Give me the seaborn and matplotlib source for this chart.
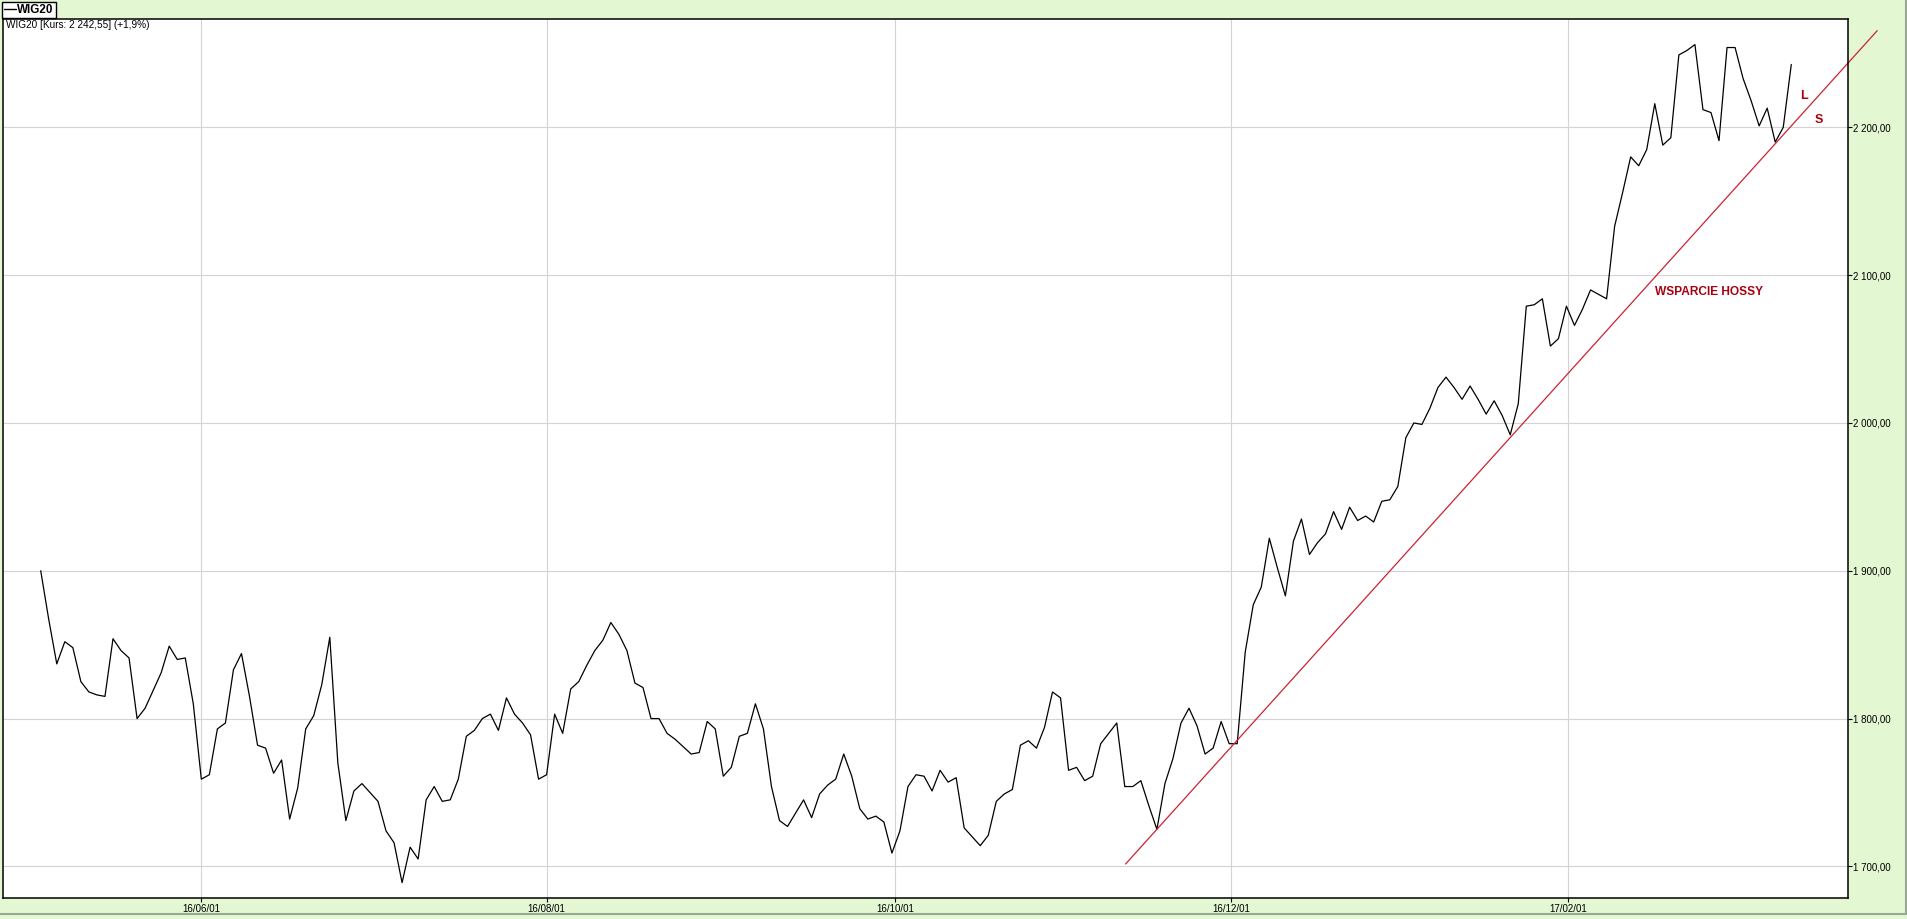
import numpy as np
import pandas as pd
import matplotlib
matplotlib.use('Agg')
import matplotlib.pyplot as plt
from matplotlib.lines import Line2D
import seaborn as sns

# WIG20 close, one value per session (early May 2016 - mid March 2017)
wig20 = [
    1900, 1867, 1837, 1852, 1848, 1825, 1818, 1816, 1815, 1854,
    1846, 1841, 1800, 1807, 1819, 1831, 1849, 1840, 1841, 1810,
    1759, 1762, 1793, 1797, 1833, 1844, 1815, 1782, 1780, 1763,
    1772, 1732, 1753, 1793, 1802, 1823, 1855, 1770, 1731, 1751,
    1756, 1750, 1744, 1724, 1716, 1689, 1713, 1705, 1745, 1754,
    1744, 1745, 1759, 1788, 1792, 1800, 1803, 1792, 1814, 1803,
    1797, 1789, 1759, 1762, 1803, 1790, 1820, 1825, 1836, 1846,
    1853, 1865, 1857, 1846, 1824, 1821, 1800, 1800, 1790, 1786,
    1781, 1776, 1777, 1798, 1793, 1761, 1767, 1788, 1790, 1810,
    1793, 1754, 1731, 1727, 1736, 1745, 1733, 1749, 1755, 1759,
    1776, 1761, 1739, 1732, 1734, 1730, 1709, 1724, 1754, 1762,
    1761, 1751, 1765, 1757, 1760, 1726, 1720, 1714, 1721, 1744,
    1749, 1752, 1782, 1785, 1780, 1794, 1818, 1814, 1765, 1767,
    1758, 1761, 1783, 1790, 1797, 1754, 1754, 1758, 1741, 1725,
    1756, 1773, 1797, 1807, 1795, 1776, 1780, 1798, 1783, 1783,
    1845, 1877, 1889, 1922, 1902, 1883, 1920, 1935, 1911, 1919,
    1925, 1940, 1928, 1943, 1934, 1937, 1933, 1947, 1948, 1957,
    1990, 2000, 1999, 2010, 2024, 2031, 2024, 2016, 2025, 2016,
    2006, 2015, 2005, 1992, 2013, 2079, 2080, 2084, 2052, 2057,
    2079, 2066, 2077, 2090, 2087, 2084, 2133, 2156, 2180, 2174,
    2185, 2216, 2188, 2193, 2249, 2252, 2256, 2212, 2210, 2191,
    2254, 2254, 2233, 2218, 2201, 2213, 2190, 2200, 2242.55,
]

date_ticks = [20, 63, 106.4, 148.2, 190.2]
date_labels = ['16/06/01', '16/08/01', '16/10/01', '16/12/01', '17/02/01']
price_ticks = [1700, 1800, 1900, 2000, 2100, 2200]
price_labels = ['1 700,00', '1 800,00', '1 900,00', '2 000,00', '2 100,00', '2 200,00']

# support line of the bull market (session index, level)
trend_x = [135.1, 228.7]
trend_y = [1701.6, 2265.4]

BG = '#E3F7D3'
DARK_RED = '#A8000F'

sns.set_theme(style='whitegrid')
plt.rcParams['font.family'] = ['Liberation Sans', 'DejaVu Sans']
plt.rcParams['text.color'] = 'black'

df = pd.DataFrame({'session': np.arange(len(wig20)), 'WIG20': wig20})

fig = plt.figure(figsize=(19.08, 9.19), dpi=100, facecolor=BG)
ax = fig.add_axes([0.00173, 0.02285, 0.96698, 0.95615])
ax.set_facecolor('white')

sns.lineplot(data=df, x='session', y='WIG20', ax=ax, color='black', lw=0.9, label='WIG20')
ax.plot(trend_x, trend_y, color='#CC2233', lw=0.9, clip_on=False)

ax.set_xlim(-4.66, 225.1)
ax.set_ylim(1678.6, 2273.1)
ax.set_xlabel('')
ax.set_ylabel('')

ax.set_xticks(date_ticks)
ax.set_xticklabels(date_labels)
ax.set_yticks(price_ticks)
ax.set_yticklabels(price_labels)
ax.yaxis.tick_right()
ax.tick_params(axis='x', bottom=True, direction='out', length=2.7, width=0.8,
               pad=1.5, labelsize=7, colors='black')
ax.tick_params(axis='y', right=True, left=False, direction='out', length=2.7,
               width=0.8, pad=1, labelsize=7, colors='black')
ax.grid(True, color='#D3D3D3', lw=0.8)
for s in ax.spines.values():
    s.set_color('black')
    s.set_linewidth(1.1)

ax.text(207.7, 2088.8, 'WSPARCIE HOSSY', color=DARK_RED, fontsize=8.6,
        weight='bold', ha='center', va='center')
ax.text(219.6, 2221.3, 'L', color=DARK_RED, fontsize=9, weight='bold',
        ha='center', va='center')
ax.text(221.4, 2205, 'S', color=DARK_RED, fontsize=9, weight='bold',
        ha='center', va='center')

fig.text(0.00314, 0.9777, 'WIG20 [Kurs: 2 242,55] (+1,9%)', fontsize=7.2,
         color='black', ha='left', va='top')

leg = ax.legend(loc='upper left', bbox_to_anchor=(0.0009, 0.9982),
                bbox_transform=fig.transFigure, frameon=True, fancybox=False,
                edgecolor='black', framealpha=1, prop={'weight': 'bold', 'size': 8.4},
                handlelength=1.0, handletextpad=0.15, borderpad=0.2,
                borderaxespad=0)
leg.get_frame().set_linewidth(1.0)
leg.get_lines()[0].set_linewidth(1.0)
for t in leg.get_texts():
    t.set_color('black')

# window frame at bottom and right
fig.add_artist(Line2D([0, 0.99895], [0.0049, 0.0049], transform=fig.transFigure,
                      color='#98A894', lw=1.5))
fig.add_artist(Line2D([0.99895, 0.99895], [0.0049, 1], transform=fig.transFigure,
                      color='#98A894', lw=1.5))

fig.savefig('out.png', dpi=100, facecolor=BG)
